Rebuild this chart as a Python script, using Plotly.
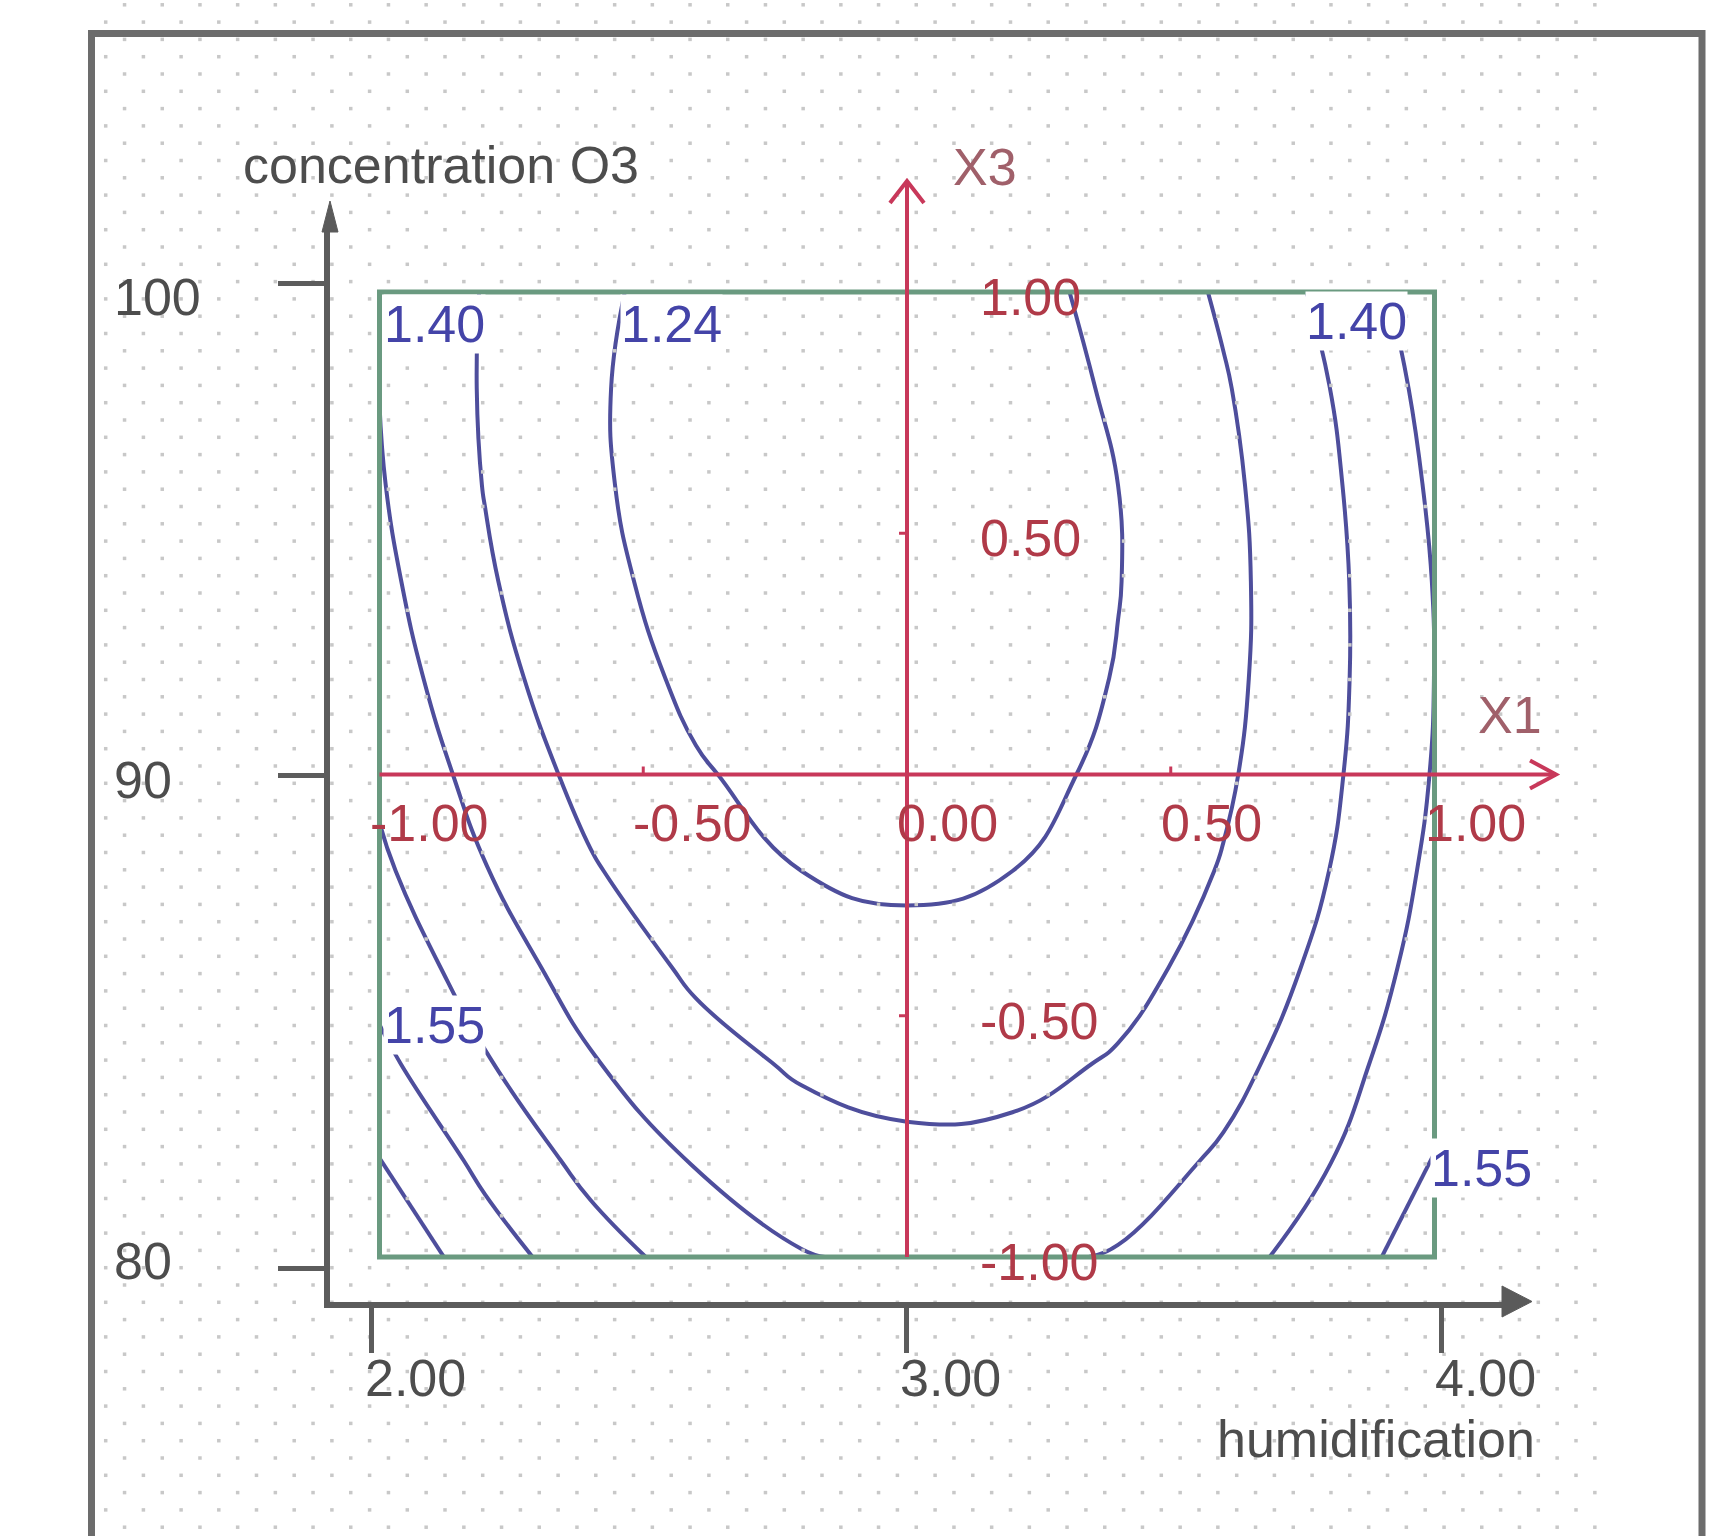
import numpy as np
import plotly.graph_objects as go

# ---------------- data ----------------
# coded factor levels of the response-surface grid
X1_GRID = [-1.0, -0.8, -0.6, -0.4, -0.2, 0.0, 0.2, 0.4, 0.6, 0.8, 1.0]   # humidification (coded)
X3_GRID = [-1.0, -0.8, -0.6, -0.4, -0.2, 0.0, 0.2, 0.4, 0.6, 0.8, 1.0]   # concentration O3 (coded)
# response, one row per X3 level (bottom -> top)
RESPONSE = [
    [1.691, 1.587, 1.505, 1.443, 1.399, 1.381, 1.382, 1.400, 1.445, 1.508, 1.592],
    [1.629, 1.530, 1.450, 1.390, 1.351, 1.334, 1.337, 1.360, 1.405, 1.470, 1.552],
    [1.568, 1.479, 1.401, 1.344, 1.308, 1.293, 1.298, 1.324, 1.371, 1.439, 1.527],
    [1.524, 1.435, 1.360, 1.305, 1.271, 1.258, 1.266, 1.294, 1.343, 1.414, 1.504],
    [1.486, 1.398, 1.324, 1.272, 1.240, 1.230, 1.240, 1.271, 1.322, 1.395, 1.488],
    [1.459, 1.367, 1.296, 1.246, 1.217, 1.208, 1.220, 1.253, 1.307, 1.382, 1.477],
    [1.432, 1.343, 1.274, 1.226, 1.199, 1.193, 1.207, 1.243, 1.299, 1.376, 1.473],
    [1.413, 1.326, 1.259, 1.213, 1.188, 1.184, 1.201, 1.238, 1.297, 1.376, 1.475],
    [1.400, 1.315, 1.250, 1.207, 1.184, 1.182, 1.201, 1.240, 1.301, 1.382, 1.484],
    [1.394, 1.311, 1.248, 1.207, 1.186, 1.186, 1.207, 1.249, 1.311, 1.394, 1.498],
    [1.394, 1.313, 1.253, 1.213, 1.195, 1.197, 1.220, 1.257, 1.328, 1.413, 1.519],
]
LEVEL_START = 1.24
LEVEL_END = 1.63
LEVEL_STEP = 0.0775
CONTOUR_LABELS = ["1.40", "1.24", "1.40", "1.55", "1.55"]

HUMID_TICKS = [2.0, 3.0, 4.0]
HUMID_LABELS = ["2.00", "3.00", "4.00"]
O3_TICKS = [80, 90, 100]
O3_LABELS = ["80", "90", "100"]
X1_TICKS = [-1.0, -0.5, 0.0, 0.5, 1.0]
X1_LABELS = ["-1.00", "-0.50", "0.00", "0.50", "1.00"]
X3_TICKS = [1.0, 0.5, -0.5, -1.0]
X3_LABELS = ["1.00", "0.50", "-0.50", "-1.00"]

# ---------------- geometry / style ----------------
W, H = 1731, 1536
FONT = "Liberation Sans, Arial, sans-serif"
FS = 52
GRAY_TXT = "#4d4d4d"
AXIS_GRAY = "#5c5c5c"
RED = "#c8385a"
RED_TXT = "#b03a48"
BLUE = "#4e4e9c"
BLUE_TXT = "#4444a8"
BOX = "#6a9a80"

# coded axes pixel mapping
CX0, CXS = 907.0, 527.5      # px of X1=0, px per coded unit
CY0, CYS = 774.5, 482.5      # py of X3=0, px per coded unit


def x1_of(px):
    return (px - CX0) / CXS


def x3_of(py):
    return (CY0 - py) / CYS


# natural axes pixel mapping
HX3, HXS = 906.0, 535.0      # px of humidification 3, px per unit
OY90, OYS = 775.75, 49.225   # py of O3 90, px per unit


def hum_of(px):
    return 3.0 + (px - HX3) / HXS


def o3_of(py):
    return 90.0 + (OY90 - py) / OYS


def pxp(px):
    return px / W


def pyp(py):
    return 1.0 - py / H


fig = go.Figure()

# dotted paper texture
dx, dy = [], []
rows = np.arange(4.8, H, 17.3)
for i, ry in enumerate(rows):
    base = 1576.0 if i % 2 == 1 else 1594.85
    xs = base - 37.7 * np.arange(0, 60)
    xs = xs[(xs >= 96) & (xs <= 1698)]
    dx.extend(x1_of(xs).tolist())
    dy.extend([x3_of(ry)] * len(xs))
fig.add_trace(go.Scatter(x=dx, y=dy, mode="markers",
                         marker=dict(symbol="square", size=3.5, color="#c8c8c8", line=dict(width=0)),
                         hoverinfo="skip", showlegend=False))

# contour lines
fig.add_trace(go.Contour(
    x=X1_GRID, y=X3_GRID, z=RESPONSE,
    contours=dict(start=LEVEL_START, end=LEVEL_END, size=LEVEL_STEP, coloring="none", showlabels=False),
    line=dict(color=BLUE, width=4, smoothing=1.3),
    showscale=False, hoverinfo="skip",
))

# empty trace on the natural axes so the subplot exists
fig.add_trace(go.Scatter(x=[None], y=[None], xaxis="x2", yaxis="y2", showlegend=False, hoverinfo="skip"))

shapes = []
# outer frame
shapes.append(dict(type="rect", xref="paper", yref="paper",
                   x0=pxp(91.5), x1=pxp(1702), y0=pyp(1600), y1=pyp(33.5),
                   line=dict(color="#6c6c6c", width=7), layer="above"))
# coded box
shapes.append(dict(type="rect", xref="x", yref="y", x0=X1_TICKS[0], x1=X1_TICKS[-1],
                   y0=X3_TICKS[-1], y1=X3_TICKS[0], line=dict(color=BOX, width=5), layer="above"))
# red coded axes
X_END = x1_of(1556.0)
Y_END = x3_of(181.0)
shapes.append(dict(type="line", xref="x", yref="y", x0=-1, y0=0, x1=X_END, y1=0,
                   line=dict(color=RED, width=4), layer="above"))
shapes.append(dict(type="line", xref="x", yref="y", x0=0, y0=-1, x1=0, y1=Y_END,
                   line=dict(color=RED, width=4), layer="above"))
# red chevrons
ax, ay = 26 / CXS, 14 / CYS
shapes.append(dict(type="path", xref="x", yref="y",
                   path=f"M {X_END-ax},{ay} L {X_END},0 L {X_END-ax},{-ay}",
                   line=dict(color=RED, width=4), layer="above"))
bx, by = 17 / CXS, 22 / CYS
shapes.append(dict(type="path", xref="x", yref="y",
                   path=f"M {-bx},{Y_END-by} L 0,{Y_END} L {bx},{Y_END-by}",
                   line=dict(color=RED, width=4), layer="above"))
# small red ticks
for t in (-0.5, 0.5):
    shapes.append(dict(type="line", xref="x", yref="y", x0=t, x1=t, y0=0, y1=8 / CYS,
                       line=dict(color=RED, width=3), layer="above"))
    shapes.append(dict(type="line", xref="x", yref="y", x0=-8 / CXS, x1=0, y0=t, y1=t,
                       line=dict(color=RED, width=3), layer="above"))
# black arrowheads of natural axes
shapes.append(dict(type="path", xref="paper", yref="paper",
                   path=f"M {pxp(1502)},{pyp(1286)} L {pxp(1532)},{pyp(1301.5)} L {pxp(1502)},{pyp(1317)} Z",
                   fillcolor="#5a5a5a", line=dict(color="#5a5a5a", width=1), layer="above"))
shapes.append(dict(type="path", xref="paper", yref="paper",
                   path=f"M {pxp(322)},{pyp(232)} L {pxp(330)},{pyp(201)} L {pxp(338)},{pyp(232)} Z",
                   fillcolor="#5a5a5a", line=dict(color="#5a5a5a", width=1), layer="above"))

ann = []
tf = dict(family=FONT, size=FS)
# natural axis labels
for t, s in zip(HUMID_TICKS, HUMID_LABELS):
    ann.append(dict(xref="x2", yref="paper", x=t, y=pyp(1378), text=s, showarrow=False,
                    xanchor="left", yanchor="middle", xshift=-8, font=dict(tf, color=GRAY_TXT)))
for t, s, sh in zip(O3_TICKS, O3_LABELS, [7, -4, -13]):
    ann.append(dict(xref="paper", yref="y2", x=pxp(112), y=t, text=s, showarrow=False,
                    xanchor="left", yanchor="middle", yshift=sh, font=dict(tf, color=GRAY_TXT)))
ann.append(dict(xref="paper", yref="paper", x=pxp(241), y=pyp(165), text="concentration O3",
                showarrow=False, xanchor="left", yanchor="middle", font=dict(tf, color=GRAY_TXT)))
ann.append(dict(xref="paper", yref="paper", x=pxp(1537), y=pyp(1439), text="humidification",
                showarrow=False, xanchor="right", yanchor="middle", font=dict(tf, color=GRAY_TXT)))
# coded axis labels
for t, s in zip(X1_TICKS, X1_LABELS):
    ann.append(dict(xref="x", yref="y", x=t, y=0, text=s, showarrow=False,
                    xanchor="left", yanchor="middle", xshift=-12, yshift=-48, font=dict(tf, color=RED_TXT)))
for t, s in zip(X3_TICKS, X3_LABELS):
    ann.append(dict(xref="x", yref="y", x=0, y=t, text=s, showarrow=False,
                    xanchor="left", yanchor="middle", xshift=71, yshift=-5, font=dict(tf, color=RED_TXT)))
ann.append(dict(xref="x", yref="y", x=x1_of(1476), y=x3_of(715), text="X1", showarrow=False,
                xanchor="left", yanchor="middle", font=dict(tf, color="#a0606a")))
ann.append(dict(xref="x", yref="y", x=x1_of(951), y=x3_of(167), text="X3", showarrow=False,
                xanchor="left", yanchor="middle", font=dict(tf, color="#a0606a")))
# contour labels (white boxes)
LABEL_PX = [(383, 327), (620, 327), (1305, 324), (383, 1028), (1430, 1171)]
for (lx, ly), s in zip(LABEL_PX, CONTOUR_LABELS):
    ann.append(dict(xref="x", yref="y", x=x1_of(lx), y=x3_of(ly), text=s, showarrow=False,
                    xanchor="left", yanchor="middle", bgcolor="white", borderpad=0, yshift=3,
                    font=dict(tf, color=BLUE_TXT)))

fig.update_layout(
    width=W, height=H, autosize=False,
    margin=dict(l=0, r=0, t=0, b=0),
    paper_bgcolor="white", plot_bgcolor="rgba(0,0,0,0)",
    showlegend=False,
    xaxis=dict(range=[x1_of(0), x1_of(W)], domain=[0, 1], visible=False, fixedrange=True),
    yaxis=dict(range=[x3_of(H), x3_of(0)], domain=[0, 1], visible=False, fixedrange=True),
    xaxis2=dict(domain=[pxp(330), pxp(1502)], range=[hum_of(330), hum_of(1502)], anchor="y2",
                showline=True, linewidth=6, linecolor=AXIS_GRAY, showgrid=False, zeroline=False,
                ticks="outside", ticklen=45, tickwidth=5, tickcolor=AXIS_GRAY,
                tickvals=HUMID_TICKS, showticklabels=False, fixedrange=True),
    yaxis2=dict(domain=[pyp(1301.5), pyp(230)], range=[o3_of(1301.5), o3_of(230)], anchor="x2",
                showline=True, linewidth=6, linecolor=AXIS_GRAY, showgrid=False, zeroline=False,
                ticks="outside", ticklen=46, tickwidth=5, tickcolor=AXIS_GRAY,
                tickvals=O3_TICKS, showticklabels=False, fixedrange=True),
    shapes=shapes,
    annotations=ann,
)

fig.write_html("out.html", config={"displayModeBar": False},
               post_script="document.body.style.margin='0px';document.body.style.overflow='hidden';")
